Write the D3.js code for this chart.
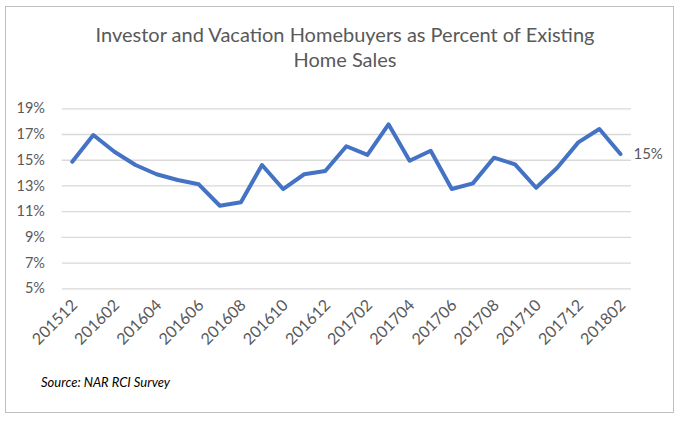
<!DOCTYPE html>
<html><head><meta charset="utf-8">
<script src="https://cdn.jsdelivr.net/npm/d3@7"></script>
<style>body{margin:0;background:#fff;}svg{display:block;font-family:Lato,"Open Sans",sans-serif;}</style>
</head><body>
<svg id="c" width="684" height="430"></svg>
<script>
const months = ["201512","201601","201602","201603","201604","201605","201606","201607","201608","201609","201610","201611","201612","201701","201702","201703","201704","201705","201706","201707","201708","201709","201710","201711","201712","201801","201802"];
const shares = [14.85,16.92,15.62,14.59,13.87,13.42,13.09,11.42,11.69,14.59,12.72,13.87,14.12,16.05,15.37,17.75,14.92,15.70,12.72,13.16,15.16,14.64,12.82,14.38,16.35,17.39,15.44];
const yTicks = [5,7,9,11,13,15,17,19];
const titleLines = ["Investor and Vacation Homebuyers as Percent of Existing","Home Sales"];
const sourceText = "Source: NAR RCI Survey";
const lastLabel = "15%";

const svg = d3.select("#c");
svg.append("rect").attr("x",5.5).attr("y",6.5).attr("width",668).attr("height",406)
  .attr("fill","#fff").attr("stroke","#bfbfbf").attr("stroke-width",1);

const x = d3.scaleBand().domain(months).range([61.7,631]);
const y = d3.scaleLinear().domain([5,19]).range([288.3,108.3]);

svg.append("g").selectAll("text").data(titleLines).join("text")
  .attr("x",345).attr("y",(d,i)=>42+i*25).attr("text-anchor","middle")
  .attr("font-size",20).attr("fill","#595959").text(d=>d);

// gridlines
svg.append("g").attr("transform","translate(61.7,0)")
  .call(d3.axisLeft(y).tickValues(yTicks).tickSize(-(631-61.7)).tickFormat(""))
  .call(g=>g.select(".domain").remove())
  .call(g=>g.selectAll("line").attr("stroke","#d9d9d9").attr("stroke-width",1.3));

// y labels
svg.append("g").attr("transform","translate(51,0)")
  .call(d3.axisLeft(y).tickValues(yTicks).tickSize(0).tickPadding(6).tickFormat(d=>d+"%"))
  .call(g=>g.select(".domain").remove())
  .call(g=>g.selectAll("text").attr("font-size",14.5).attr("fill","#595959").attr("font-family","Lato"));

// x labels
const xg = svg.append("g").attr("transform","translate(0,288.3)")
  .call(d3.axisBottom(x).tickValues(months.filter((d,i)=>i%2===0)).tickSize(0).tickPadding(0))
  .call(g=>g.select(".domain").remove());
xg.selectAll("text").attr("font-size",16).attr("fill","#595959").attr("font-family","Lato")
  .attr("text-anchor","end").attr("dy",null).attr("y",0)
  .attr("transform","translate(6,18) rotate(-45)");

const line = d3.line().x(d=>x(d.m)+x.bandwidth()/2).y(d=>y(d.v));
const data = months.map((m,i)=>({m,v:shares[i]}));
svg.append("path").datum(data).attr("d",line).attr("fill","none")
  .attr("stroke","#4472C4").attr("stroke-width",4).attr("stroke-linejoin","round").attr("stroke-linecap","round");

const last = data[data.length-1];
svg.append("text").attr("x",x(last.m)+x.bandwidth()/2+13).attr("y",y(last.v)+5)
  .attr("font-size",15).attr("fill","#595959").text(lastLabel);

svg.append("text").attr("x",41).attr("y",387).attr("font-size",13).attr("font-style","italic")
  .attr("fill","#000").text(sourceText);
</script>
</body></html>
